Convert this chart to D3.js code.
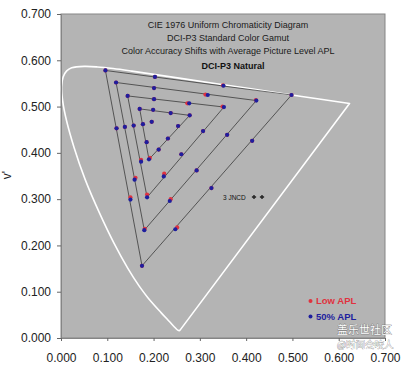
<!DOCTYPE html>
<html>
<head>
<meta charset="utf-8">
<script src="https://cdn.jsdelivr.net/npm/d3@7"></script>
<style>
  body { margin: 0; background: #fff; }
  svg { display: block; font-family: "Liberation Sans", Arial, sans-serif; }
</style>
</head>
<body>
<div id="vis-container"></div>
<script>
// chart size and plot margins
const width = 404;
const height = 365;
const margin = { left: 61, right: 19, top: 14, bottom: 27 };

// axis ticks (u' and v')
const tickValues = [0, 0.1, 0.2, 0.3, 0.4, 0.5, 0.6, 0.7];

// CIE 1976 spectral locus, 380nm -> 700nm
const locusU = [0.2568, 0.2557, 0.2522, 0.2461, 0.2347, 0.2161, 0.1877, 0.1690, 0.1441, 0.1147, 0.0828, 0.0521, 0.0282, 0.0119, 0.0035, 0.0014, 0.0046, 0.0123, 0.0231, 0.0501, 0.0792, 0.1127, 0.1531, 0.2623, 0.4035, 0.5203, 0.6234];
const locusV = [0.0165, 0.0159, 0.0169, 0.0226, 0.0350, 0.0549, 0.0871, 0.1120, 0.1510, 0.2044, 0.2708, 0.3427, 0.4117, 0.4698, 0.5130, 0.5431, 0.5638, 0.5770, 0.5837, 0.5868, 0.5856, 0.5821, 0.5766, 0.5604, 0.5393, 0.5219, 0.5065];

// gamut triangles at each saturation level: green, red, blue corners
const triGreen = [[0.096, 0.578], [0.119, 0.552], [0.144, 0.523], [0.170, 0.495]];
const triRed   = [[0.498, 0.525], [0.422, 0.513], [0.352, 0.499], [0.278, 0.481]];
const triBlue  = [[0.175, 0.156], [0.180, 0.233], [0.186, 0.304], [0.190, 0.386]];

// measured points, 50% APL
const apl50U = [0.096, 0.203, 0.351, 0.498, 0.119, 0.201, 0.317, 0.422, 0.144, 0.201, 0.277, 0.352, 0.170, 0.199, 0.237, 0.278, 0.196, 0.120, 0.138, 0.157, 0.177, 0.253, 0.307, 0.359, 0.413, 0.185, 0.231, 0.211, 0.260, 0.173, 0.190, 0.222, 0.293, 0.159, 0.325, 0.186, 0.150, 0.235, 0.180, 0.247, 0.175];
const apl50V = [0.578, 0.564, 0.545, 0.525, 0.552, 0.540, 0.525, 0.513, 0.523, 0.516, 0.507, 0.499, 0.495, 0.493, 0.486, 0.481, 0.467, 0.453, 0.456, 0.459, 0.462, 0.458, 0.447, 0.439, 0.426, 0.423, 0.431, 0.407, 0.397, 0.381, 0.386, 0.349, 0.362, 0.342, 0.324, 0.304, 0.299, 0.296, 0.233, 0.235, 0.156];

// measured points, low APL
const lowU = [0.096, 0.203, 0.350, 0.498, 0.119, 0.201, 0.312, 0.421, 0.144, 0.201, 0.273, 0.349, 0.170, 0.199, 0.237, 0.278, 0.196, 0.120, 0.138, 0.157, 0.177, 0.253, 0.307, 0.359, 0.413, 0.185, 0.231, 0.211, 0.260, 0.173, 0.192, 0.223, 0.293, 0.161, 0.325, 0.186, 0.150, 0.237, 0.181, 0.251, 0.175];
const lowV = [0.578, 0.564, 0.546, 0.525, 0.552, 0.540, 0.526, 0.514, 0.523, 0.516, 0.507, 0.500, 0.495, 0.493, 0.486, 0.481, 0.467, 0.453, 0.456, 0.459, 0.462, 0.458, 0.447, 0.439, 0.426, 0.423, 0.431, 0.407, 0.397, 0.385, 0.389, 0.355, 0.362, 0.346, 0.324, 0.310, 0.304, 0.300, 0.236, 0.239, 0.156];

const titleLines = ["CIE 1976 Uniform Chromaticity Diagram", "DCI-P3 Standard Color Gamut", "Color Accuracy Shifts with Average Picture Level APL"];

const svg = d3.select("#vis-container")
  .append("svg")
  .attr("width", width)
  .attr("height", height);

const x = d3.scaleLinear().domain([0, 0.7]).range([margin.left, width - margin.right]);
const y = d3.scaleLinear().domain([0, 0.7]).range([height - margin.bottom, margin.top]);

// gray plot area
svg.append("rect")
  .attr("x", x(0)).attr("y", y(0.7))
  .attr("width", x(0.7) - x(0)).attr("height", y(0) - y(0.7))
  .attr("fill", "#b4b4b4")
  .attr("stroke", "#858585")
  .attr("stroke-width", 1);

// spectral locus (smooth) + straight purple line back to 380nm
const locus = locusU.map((u, i) => [u, locusV[i]]);
const locusLine = d3.line().x(d => x(d[0])).y(d => y(d[1])).curve(d3.curveCatmullRom);
svg.append("path")
  .datum(locus)
  .attr("fill", "none")
  .attr("stroke", "#fff")
  .attr("stroke-width", 1.6)
  .attr("stroke-linejoin", "round")
  .attr("d", d => locusLine(d) + "Z");

// triangles
const triLine = d3.line().x(d => x(d[0])).y(d => y(d[1]));
triGreen.forEach(function (g, i) {
  svg.append("path")
    .datum([g, triRed[i], triBlue[i], g])
    .attr("fill", "none")
    .attr("stroke", "#2a2a2a")
    .attr("stroke-width", 0.7)
    .attr("d", triLine);
});

// points: low APL underneath, 50% APL on top
svg.append("g").selectAll("circle")
  .data(lowU.map((u, i) => [u, lowV[i]]))
  .join("circle")
  .attr("cx", d => x(d[0])).attr("cy", d => y(d[1]))
  .attr("r", 2.1)
  .attr("fill", "#e0323f");

svg.append("g").selectAll("circle")
  .data(apl50U.map((u, i) => [u, apl50V[i]]))
  .join("circle")
  .attr("cx", d => x(d[0])).attr("cy", d => y(d[1]))
  .attr("r", 2.1)
  .attr("fill", "#1e1e9e");

// axes
const yAxis = svg.append("g")
  .attr("transform", `translate(${x(0)},0)`)
  .call(d3.axisLeft(y).tickValues(tickValues).tickFormat(d3.format(".3f")).tickSize(4).tickPadding(6));
const xAxis = svg.append("g")
  .attr("transform", `translate(0,${y(0)})`)
  .call(d3.axisBottom(x).tickValues(tickValues).tickFormat(d3.format(".3f")).tickSize(3).tickPadding(12));
[xAxis, yAxis].forEach(function (g) {
  g.selectAll("path").attr("stroke", "#858585");
  g.selectAll("line").attr("stroke", "#666");
  g.selectAll("text").attr("font-size", "12px").attr("fill", "#222")
    .attr("font-family", "'Liberation Sans', Arial, sans-serif");
});

// y label
svg.append("text")
  .attr("transform", "translate(11,175) rotate(-90)")
  .attr("text-anchor", "middle")
  .attr("font-size", "12px")
  .attr("fill", "#222")
  .text("v'");

// titles
titleLines.forEach(function (t, i) {
  svg.append("text")
    .attr("x", 228).attr("y", 28 + i * 13)
    .attr("text-anchor", "middle")
    .attr("font-size", "9px")
    .attr("fill", "#1a1a1a")
    .text(t);
});
svg.append("text")
  .attr("x", 233).attr("y", 69)
  .attr("text-anchor", "middle")
  .attr("font-size", "9px")
  .attr("font-weight", "bold")
  .attr("fill", "#111")
  .text("DCI-P3 Natural");

// 3 JNCD marker
svg.append("text")
  .attr("x", 223).attr("y", 199.5)
  .attr("font-size", "6.5px")
  .attr("fill", "#111")
  .text("3 JNCD");
[254, 262].forEach(function (px) {
  svg.append("path")
    .attr("transform", `translate(${px},197)`)
    .attr("d", d3.symbol(d3.symbolCross, 10)())
    .attr("fill", "#222");
});

// legend
const legend = [["Low APL", "#e0323f", 301], ["50% APL", "#1e1e9e", 316.5]];
legend.forEach(function (l) {
  svg.append("circle").attr("cx", 310.5).attr("cy", l[2]).attr("r", 2).attr("fill", l[1]);
  svg.append("text")
    .attr("x", 316).attr("y", l[2] + 3.3)
    .attr("font-size", "9.5px")
    .attr("font-weight", "bold")
    .attr("fill", l[1])
    .text(l[0]);
});

// watermark
svg.append("text")
  .attr("x", 337).attr("y", 334)
  .attr("font-family", "'Noto Sans CJK SC', sans-serif")
  .attr("font-size", "11px")
  .attr("fill", "#fff").attr("stroke", "#666").attr("stroke-width", 0.6)
  .attr("paint-order", "stroke")
  .text("盖乐世社区");
svg.append("text")
  .attr("x", 337).attr("y", 348)
  .attr("font-family", "'Noto Sans CJK SC', sans-serif")
  .attr("font-size", "9.5px")
  .attr("fill", "#fff").attr("stroke", "#777").attr("stroke-width", 0.5)
  .attr("paint-order", "stroke")
  .text("@时间会咬人");
</script>
</body>
</html>
